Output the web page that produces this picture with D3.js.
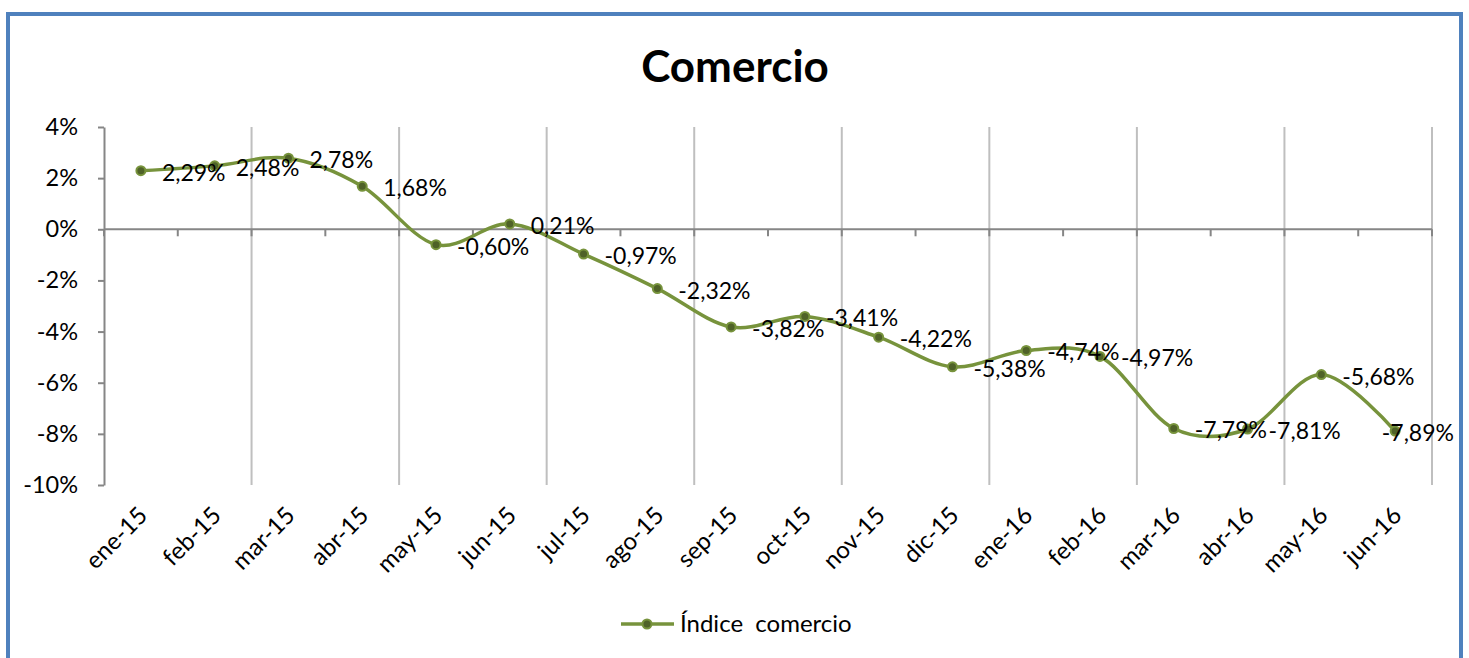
<!DOCTYPE html>
<html>
<head>
<meta charset="utf-8">
<script src="https://cdn.jsdelivr.net/npm/d3@7"></script>
<style>
  body { margin: 0; background: #fff; }
  svg { display: block; font-family: Lato, "Open Sans", sans-serif; }
</style>
</head>
<body>
<div id="chart"></div>
<script>
// data
var months = ['ene-15', 'feb-15', 'mar-15', 'abr-15', 'may-15', 'jun-15', 'jul-15', 'ago-15', 'sep-15',
  'oct-15', 'nov-15', 'dic-15', 'ene-16', 'feb-16', 'mar-16', 'abr-16', 'may-16', 'jun-16'];
var indiceComercio = [2.29, 2.48, 2.78, 1.68, -0.60, 0.21, -0.97, -2.32, -3.82,
  -3.41, -4.22, -5.38, -4.74, -4.97, -7.79, -7.81, -5.68, -7.89];
var yTicks = [4, 2, 0, -2, -4, -6, -8, -10];
var seriesName = 'Índice  comercio';
var chartTitle = 'Comercio';

var width = 1469, height = 658;
var plot = { left: 104, right: 1432, top: 127, bottom: 485 };
var lineColor = '#77933c', markerFill = '#4f6228';

var svg = d3.select('#chart').append('svg')
  .attr('width', width)
  .attr('height', height);

// outer blue frame (bottom edge runs off the picture)
svg.append('rect')
  .attr('x', 8).attr('y', 14)
  .attr('width', 1453).attr('height', 700)
  .attr('fill', '#fff')
  .attr('stroke', '#4f81bd')
  .attr('stroke-width', 4);

svg.append('text')
  .attr('x', 735).attr('y', 82)
  .attr('text-anchor', 'middle')
  .attr('font-size', 44)
  .attr('font-weight', 'bold')
  .text(chartTitle);

var x = d3.scaleBand()
  .domain(months)
  .range([plot.left, plot.right]);
var y = d3.scaleLinear()
  .domain([-10, 4])
  .range([plot.bottom, plot.top]);

var fmt = function(v) {
  return v.toFixed(2).replace('.', ',') + '%';
};

// vertical gridlines every two categories
var gridX = months.filter(function(d, i) { return i % 2 === 1; })
  .map(function(d) { return x(d) + x.bandwidth(); });
svg.append('g').selectAll('line')
  .data(gridX)
  .enter().append('line')
    .attr('x1', function(d) { return d; })
    .attr('x2', function(d) { return d; })
    .attr('y1', plot.top)
    .attr('y2', plot.bottom)
    .attr('stroke', '#bfbfbf')
    .attr('stroke-width', 2);

// y axis
var yAxis = svg.append('g')
  .attr('transform', 'translate(' + plot.left + ',0)')
  .call(d3.axisLeft(y).tickValues(yTicks).tickSize(6).tickSizeOuter(0)
    .tickFormat(function(d) { return d + '%'; }));
yAxis.selectAll('path, line').attr('stroke', '#868686').attr('stroke-width', 2);
yAxis.selectAll('text')
  .attr('font-size', 23.5)
  .attr('font-family', 'Lato, sans-serif')
  .attr('fill', '#000')
  .attr('x', -26);

// x axis along zero, ticks between categories
var boundaries = months.map(function(d) { return x(d); }).concat([plot.right]);
var xAxis = svg.append('g');
xAxis.append('line')
  .attr('x1', plot.left).attr('x2', plot.right)
  .attr('y1', y(0)).attr('y2', y(0))
  .attr('stroke', '#868686').attr('stroke-width', 2);
xAxis.selectAll('.tick')
  .data(boundaries)
  .enter().append('line')
    .attr('x1', function(d) { return d; })
    .attr('x2', function(d) { return d; })
    .attr('y1', y(0))
    .attr('y2', y(0) + 7)
    .attr('stroke', '#868686')
    .attr('stroke-width', 2);

// category labels, rotated
svg.append('g').selectAll('text')
  .data(months)
  .enter().append('text')
    .attr('transform', function(d) {
      return 'translate(' + (x(d) + x.bandwidth() / 2 + 8) + ',517) rotate(-45)';
    })
    .attr('text-anchor', 'end')
    .attr('font-size', 24)
    .attr('fill', '#000')
    .text(function(d) { return d; });

// smoothed line
var line = d3.line()
  .x(function(d, i) { return x(months[i]) + x.bandwidth() / 2; })
  .y(function(d) { return y(d); })
  .curve(d3.curveCardinal.tension(0));

svg.append('path')
  .datum(indiceComercio)
  .attr('d', line)
  .attr('fill', 'none')
  .attr('stroke', lineColor)
  .attr('stroke-width', 3.5);

svg.append('g').selectAll('circle')
  .data(indiceComercio)
  .enter().append('circle')
    .attr('cx', function(d, i) { return x(months[i]) + x.bandwidth() / 2; })
    .attr('cy', function(d) { return y(d); })
    .attr('r', 4.5)
    .attr('fill', markerFill)
    .attr('stroke', lineColor)
    .attr('stroke-width', 2);

// data labels to the right of each point, pulled back inside the frame if needed
svg.append('g').selectAll('text')
  .data(indiceComercio)
  .enter().append('text')
    .attr('y', function(d) { return y(d) + 10; })
    .attr('font-size', 23)
    .attr('fill', '#000')
    .text(fmt)
    .attr('x', function(d, i) {
      var px = x(months[i]) + x.bandwidth() / 2 + 21;
      var w = this.getComputedTextLength();
      return Math.min(px, 1454 - w);
    });

// legend
var legend = svg.append('g');
legend.append('line')
  .attr('x1', 621).attr('x2', 674)
  .attr('y1', 624).attr('y2', 624)
  .attr('stroke', lineColor).attr('stroke-width', 3.5);
legend.append('circle')
  .attr('cx', 647).attr('cy', 624).attr('r', 4.5)
  .attr('fill', markerFill).attr('stroke', lineColor).attr('stroke-width', 2);
legend.append('text')
  .attr('x', 680).attr('y', 632)
  .attr('font-size', 24)
  .attr('fill', '#000')
  .attr('xml:space', 'preserve')
  .style('white-space', 'pre')
  .text(seriesName);
</script>
</body>
</html>
